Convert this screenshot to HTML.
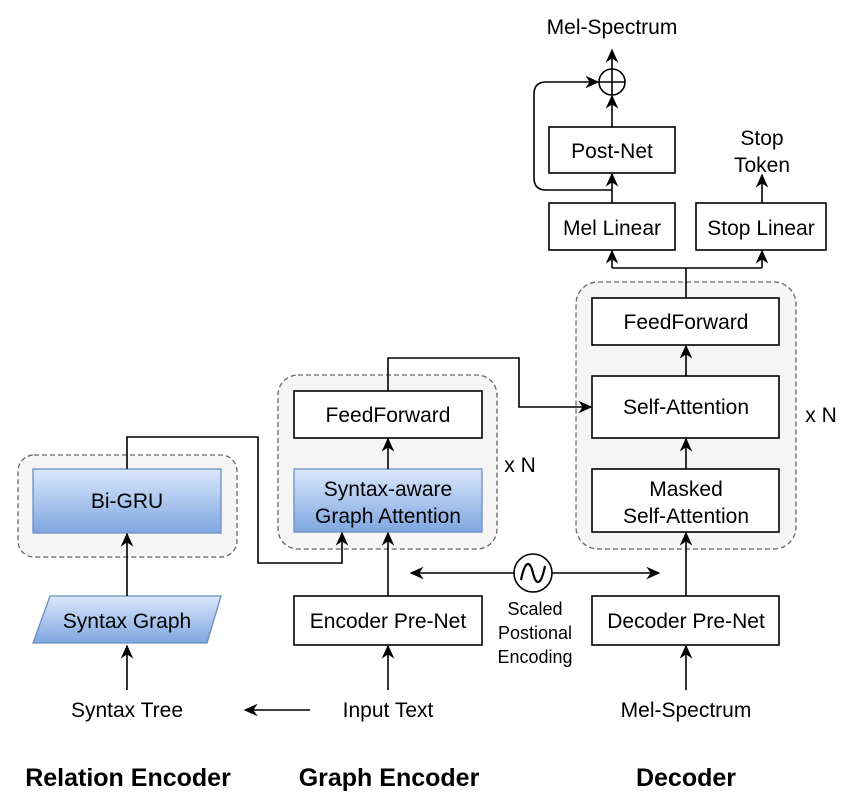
<!DOCTYPE html>
<html><head><meta charset="utf-8"><style>
html,body{margin:0;padding:0;background:#fff;}
svg text{font-family:"Liberation Sans",Arial,sans-serif;fill:#000;}
</style></head><body>
<svg width="855" height="805" viewBox="0 0 855 805" xmlns="http://www.w3.org/2000/svg">
<defs>
<linearGradient id="bg" x1="0" y1="0" x2="0" y2="1"><stop offset="0" stop-color="#dae8fc"/><stop offset="1" stop-color="#7ea6e0"/></linearGradient>
<marker id="a" viewBox="0 0 10 10" refX="9" refY="5" markerWidth="14" markerHeight="14" markerUnits="userSpaceOnUse" orient="auto"><path d="M0,0.5 L10,5 L0,9.5 L3,5 Z" fill="#000"/></marker>
</defs>
<g fill="#f5f5f5" stroke="#666" stroke-width="1.3" stroke-dasharray="5,3">
<rect x="18" y="455" width="219" height="102" rx="16"/>
<rect x="278" y="375" width="219" height="174" rx="20"/>
<rect x="576" y="282" width="220" height="267" rx="22"/>
</g>
<g stroke="#000" stroke-width="1.6" fill="#fff">
<rect x="294" y="391" width="188" height="47"/>
<rect x="294" y="596" width="188" height="49"/>
<rect x="592" y="298" width="187" height="47"/>
<rect x="592" y="376" width="187" height="62"/>
<rect x="592" y="469" width="187" height="63"/>
<rect x="592" y="596" width="187" height="49"/>
<rect x="549" y="203" width="126" height="47"/>
<rect x="696" y="203" width="130" height="47"/>
<rect x="549" y="127" width="126" height="46"/>
<circle cx="612" cy="82" r="13"/>
<circle cx="533" cy="573" r="19"/>
</g>
<g stroke="#6c8ebf" stroke-width="1.3" fill="url(#bg)">
<rect x="33" y="469" width="188" height="64"/>
<rect x="294" y="469" width="188" height="63"/>
<path d="M50,596 L221,596 L207,643 L33,643 Z"/>
</g>
<g stroke="#000" stroke-width="1.6" fill="none">
<path d="M599,82 H625 M612,69 V95"/>
<path d="M521,580 C525,560 530,560 533,573 C536,586 541,586 545,566" stroke-width="2.2"/>
<path d="M127,690 V646" marker-end="url(#a)"/>
<path d="M127,596 V534" marker-end="url(#a)"/>
<path d="M127,469 V437 H258 V563 H342 V533" marker-end="url(#a)"/>
<path d="M388,690 V646" marker-end="url(#a)"/>
<path d="M388,596 V533" marker-end="url(#a)"/>
<path d="M388,469 V439" marker-end="url(#a)"/>
<path d="M388,391 V358 H519 V407 H591" marker-end="url(#a)"/>
<path d="M310,710 H245" marker-end="url(#a)"/>
<path d="M514,573 H411" marker-end="url(#a)"/>
<path d="M552,573 H659" marker-end="url(#a)"/>
<path d="M686,690 V646" marker-end="url(#a)"/>
<path d="M686,596 V533" marker-end="url(#a)"/>
<path d="M686,469 V439" marker-end="url(#a)"/>
<path d="M686,376 V346" marker-end="url(#a)"/>
<path d="M686,298 V268 M612,268 H762"/>
<path d="M612,268 V251" marker-end="url(#a)"/>
<path d="M762,268 V251" marker-end="url(#a)"/>
<path d="M612,203 V174" marker-end="url(#a)"/>
<path d="M612,127 V96" marker-end="url(#a)"/>
<path d="M612,69 V50" marker-end="url(#a)"/>
<path d="M762,203 V175" marker-end="url(#a)"/>
<path d="M612,190 H546 Q534,190 534,178 V94 Q534,82 546,82 H598" marker-end="url(#a)"/>
</g>
<g font-size="21" text-anchor="middle">
<text x="127" y="508">Bi-GRU</text>
<text x="127" y="628">Syntax Graph</text>
<text x="388" y="422">FeedForward</text>
<text x="388" y="496">Syntax-aware</text>
<text x="388" y="523">Graph Attention</text>
<text x="388" y="628">Encoder Pre-Net</text>
<text x="686" y="329">FeedForward</text>
<text x="686" y="414">Self-Attention</text>
<text x="686" y="496">Masked</text>
<text x="686" y="523">Self-Attention</text>
<text x="686" y="628">Decoder Pre-Net</text>
<text x="612" y="235">Mel Linear</text>
<text x="761" y="235">Stop Linear</text>
<text x="612" y="158">Post-Net</text>
<text x="612" y="34">Mel-Spectrum</text>
<text x="762" y="145">Stop</text>
<text x="762" y="172">Token</text>
<text x="127" y="717">Syntax Tree</text>
<text x="388" y="717">Input Text</text>
<text x="686" y="717">Mel-Spectrum</text>
<text x="520" y="472">x N</text>
<text x="821" y="422">x N</text>
</g>
<g font-size="18" text-anchor="middle">
<text x="535" y="615">Scaled</text>
<text x="535" y="639">Postional</text>
<text x="535" y="663">Encoding</text>
</g>
<g font-size="25" font-weight="bold" text-anchor="middle">
<text x="128" y="786">Relation Encoder</text>
<text x="389" y="786">Graph Encoder</text>
<text x="686" y="786">Decoder</text>
</g>
</svg>
</body></html>
